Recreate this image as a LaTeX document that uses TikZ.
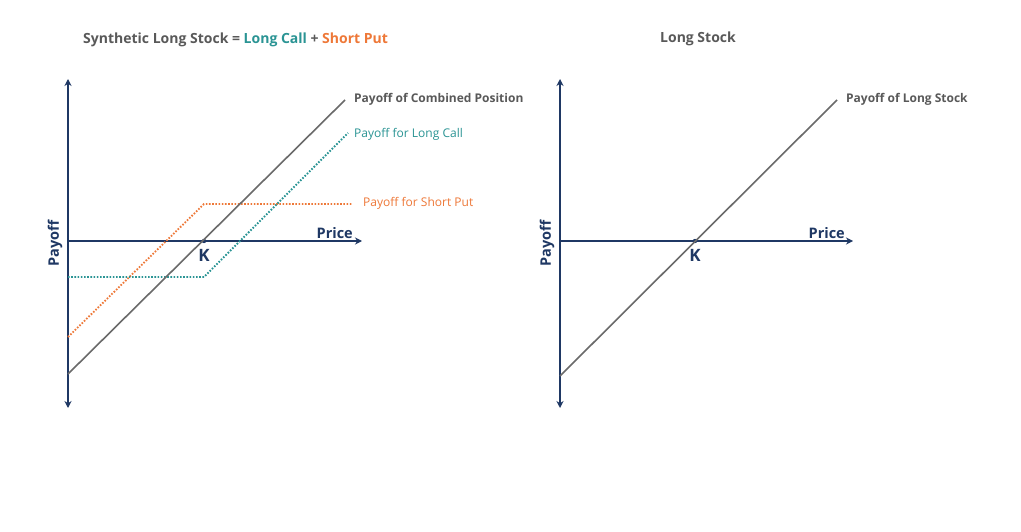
\documentclass[tikz,border=0pt]{standalone}
\usepackage{fontspec}
\setmainfont{Open Sans}
\usetikzlibrary{arrows.meta}
\definecolor{navy}{HTML}{1F3864}
\definecolor{graytxt}{HTML}{595959}
\definecolor{teal}{HTML}{2A9494}
\definecolor{orng}{HTML}{EE7838}
\definecolor{grayline}{HTML}{6A6A6A}
\tikzset{
  axis/.style={draw=navy, line width=2.6pt},
  tipa/.style={-{Stealth[length=7pt,width=7pt]}},
  tipb/.style={{Stealth[length=7pt,width=7pt]}-{Stealth[length=7pt,width=7pt]}},
  combo/.style={draw=grayline, line width=1.6pt},
  dotline/.style={line width=1.8pt, dash pattern=on 1.6pt off 1.6pt},
  axlabel/.style={font=\bfseries\fontsize{14.5}{17}\selectfont, text=navy, inner sep=0pt},
  klabel/.style={font=\bfseries\fontsize{17}{19}\selectfont, text=navy, inner sep=0pt, anchor=north},
  curvelabel/.style={font=\fontsize{12}{14}\selectfont, anchor=west, inner sep=0pt},
}
\begin{document}
\begin{tikzpicture}[x=1pt,y=-1pt]
\useasboundingbox[fill=white] (0,0) rectangle (1021,532);
% ---------- left chart ----------
\node[inner sep=0pt, anchor=west, font=\bfseries\fontsize{14}{17}\selectfont] (title1) at (83,40)
  {\textcolor{graytxt}{Synthetic Long Stock =} \textcolor{teal}{Long Call} \textcolor{graytxt}{+} \textcolor{orng}{Short Put}};
\coordinate (ltop) at (68,79);
\coordinate (lbot) at (68,408);
\coordinate (lorig) at (68,241);
\coordinate (lxend) at (362,241);
\coordinate (lk) at (204,241);
\draw[axis, tipb] (lbot) -- (ltop);
\draw[axis, tipa] (lorig) -- (lxend);
\node[axlabel, anchor=south east] (lprice) at (353,239) {Price};
\node[axlabel, rotate=90] (lpayoff) at (55,243) {Payoff};
\node[klabel] (lklab) at (204,249) {K};
\fill[navy] (lk) circle (2.2pt);
% short put
\coordinate (sp0) at (68,337);
\coordinate (sp1) at (204,204);
\coordinate (sp2) at (352,204);
\draw[orng, dotline] (sp0) -- (sp1) -- (sp2);
% long call
\coordinate (lc0) at (68,277);
\coordinate (lc1) at (204,277);
\coordinate (lc2) at (348,133);
\draw[teal, dotline] (lc0) -- (lc1) -- (lc2);
% combined
\coordinate (cb0) at (68,374);
\coordinate (cb1) at (345,100);
\draw[combo] (cb0) -- (cb1);
\node[curvelabel, font=\bfseries\fontsize{12}{14}\selectfont, text=graytxt] (lcb) at (354,99) {Payoff of Combined Position};
\node[curvelabel, text=teal] (llc) at (354,134) {Payoff for Long Call};
\node[curvelabel, text=orng] (lsp) at (363,203) {Payoff for Short Put};
% ---------- right chart ----------
\node[inner sep=0pt, font=\bfseries\fontsize{14}{17}\selectfont, text=graytxt] (title2) at (698,39) {Long Stock};
\coordinate (rtop) at (560,79);
\coordinate (rbot) at (560,408);
\coordinate (rorig) at (560,241);
\coordinate (rxend) at (853,241);
\coordinate (rk) at (695,241);
\draw[axis, tipb] (rbot) -- (rtop);
\draw[axis, tipa] (rorig) -- (rxend);
\node[axlabel, anchor=south east] (rprice) at (845,239) {Price};
\node[axlabel, rotate=90] (rpayoff) at (547,243) {Payoff};
\node[klabel] (rklab) at (695,249) {K};
\fill[navy] (rk) circle (2.2pt);
\coordinate (ls0) at (560,376);
\coordinate (ls1) at (837,100);
\draw[combo] (ls0) -- (ls1);
\node[curvelabel, font=\bfseries\fontsize{12}{14}\selectfont, text=graytxt] (rls) at (846,99) {Payoff of Long Stock};
\end{tikzpicture}
\end{document}
